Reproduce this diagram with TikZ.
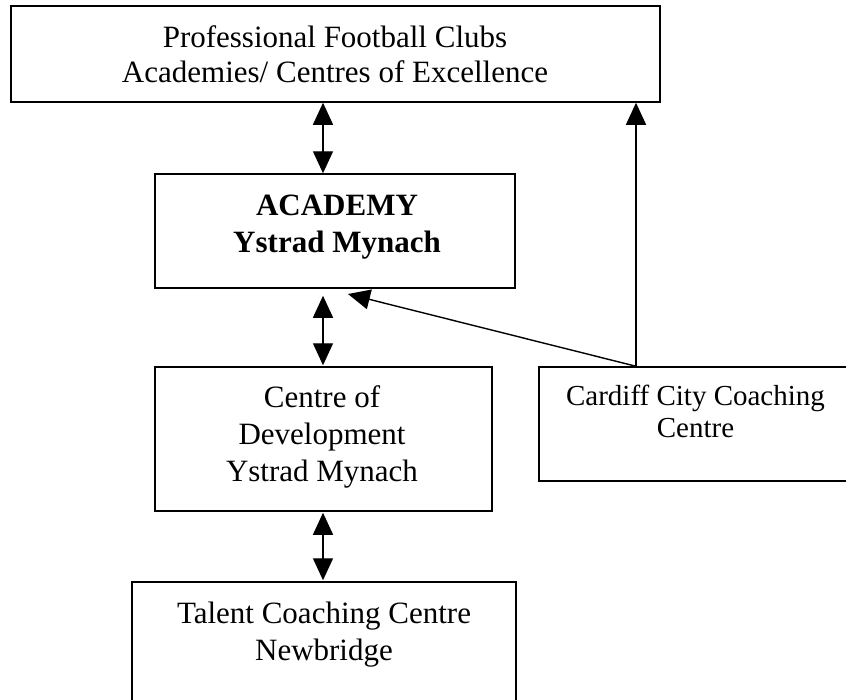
\documentclass[tikz,border=0pt]{standalone}
\usepackage{fontspec}
\setmainfont{Liberation Serif}
\usetikzlibrary{arrows.meta}
\begin{document}
\begin{tikzpicture}[x=1pt,y=-1pt,
  box/.style={draw, line width=1.5pt, inner sep=0pt},
  txt/.style={inner sep=0pt, align=center, anchor=north, font=\fontsize{31}{37}\selectfont},
  tip/.tip={Triangle[width=20pt,length=22pt]},
  link/.style={line width=1.4pt, -tip},
  dbl/.style={line width=1.4pt, tip-tip}]
\useasboundingbox (0,0) rectangle (846,699);
\clip (0,0) rectangle (846,699);
\fill[white] (0,0) rectangle (846,699);

% boxes
\node[box, minimum width=649pt, minimum height=96pt] (top) at (335.5,54) {};
\node[box, minimum width=360pt, minimum height=114pt] (acad) at (335,231) {};
\node[box, minimum width=337pt, minimum height=144pt] (cod) at (323.5,439) {};
\node[box, minimum width=314pt, minimum height=114pt] (card) at (696,424) {};
\node[box, minimum width=384pt, minimum height=152pt] (tal) at (324,658) {};

% texts
\node[txt, font=\fontsize{31}{35}\selectfont] (tTop) at (335,22.5)
  {\strut Professional Football Clubs\\Academies/ Centres of Excellence};
\node[txt, font=\fontsize{31}{37}\selectfont\bfseries] (tAcad) at (337,189.1)
  {\strut ACADEMY\\Ystrad Mynach};
\node[txt] (tCod) at (322,381.1)
  {\strut Centre of\\Development\\Ystrad Mynach};
\node[txt, font=\fontsize{29}{32}\selectfont] (tCard) at (695.5,382.6)
  {\strut Cardiff City Coaching\\Centre};
\node[txt] (tTal) at (324,597.1)
  {\strut Talent Coaching Centre\\Newbridge};

% connector anchors
\coordinate (xa) at (323,0);
\coordinate (xc) at (636,0);
\coordinate (tipA) at (348,294);

\draw[dbl] (top.south -| xa) -- (acad.north -| xa);
\draw[dbl, shorten <=7pt, shorten >=1pt] (acad.south -| xa) -- (cod.north -| xa);
\draw[dbl, shorten <=1pt, shorten >=1pt] (cod.south -| xa) -- (tal.north -| xa);
\draw[link] (card.north -| xc) -- (top.south -| xc);
\draw[link] (card.north -| xc) -- (tipA);
\end{tikzpicture}
\end{document}
